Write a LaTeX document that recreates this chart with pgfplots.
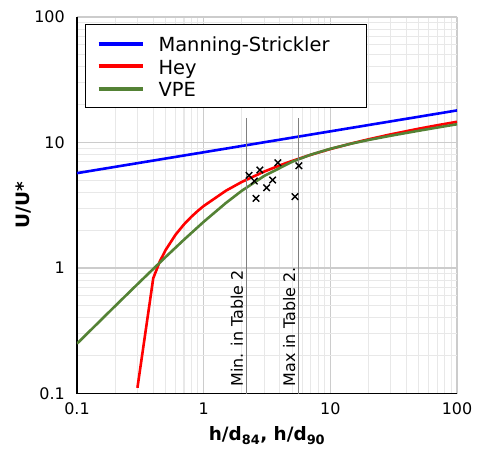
\documentclass[border=0pt]{standalone}
\usepackage{fontspec}
\setmainfont{DejaVu Sans}
\usepackage{pgfplots}
\pgfplotsset{compat=1.18}
\definecolor{msblue}{RGB}{0,0,255}
\definecolor{heyred}{RGB}{255,0,0}
\definecolor{vpegreen}{RGB}{84,130,53}
\begin{document}
\begin{tikzpicture}
\begin{axis}[
 scale only axis, width=380bp, height=376.5bp,
 xmode=log, ymode=log, xmin=0.1, xmax=100, ymin=0.1, ymax=100,
 axis x line*=bottom, axis y line*=left,
 axis line style={black, line width=1.3bp},
 xtick={0.1,1,10,100}, xticklabels={0.1,1,10,100},
 ytick={0.1,1,10,100}, yticklabels={0.1,1,10,100},
 minor xtick={0.2,0.3,0.4,0.5,0.6,0.7,0.8,0.9,2,3,4,5,6,7,8,9,20,30,40,50,60,70,80,90},
 minor ytick={0.2,0.3,0.4,0.5,0.6,0.7,0.8,0.9,2,3,4,5,6,7,8,9,20,30,40,50,60,70,80,90},
 major tick length=0pt, minor tick length=0pt,
 grid=both,
 major grid style={color=black!20, line width=1.3bp},
 minor grid style={color=black!9, line width=1.1bp},
 /pgf/number format/assume math mode=true,
 ticklabel style={font=\fontsize{16}{19}\selectfont},
 xticklabel style={yshift=-6bp},
 yticklabel style={xshift=-8.7bp},
 xlabel={\textbf{h/d\textsubscript{84}, h/d\textsubscript{90}}},
 ylabel={\textbf{U/U*}},
 label style={font=\fontsize{18.5}{22}\selectfont},
 xlabel style={at={(axis description cs:0.5,-0.078)}, anchor=north},
 ylabel style={at={(axis description cs:-0.14,0.5)}, anchor=center},
 legend style={at={(0.021,0.981)}, anchor=north west, draw=black, line width=1.2bp,
   font=\fontsize{19.5}{23}\selectfont, inner xsep=11bp, inner ysep=7.5bp, row sep=0bp,
   cells={anchor=west}},
 legend image code/.code={\draw[#1,line width=4bp] (0bp,0bp) -- (44bp,0bp);},
]
\coordinate (bl) at (axis description cs:0,0);
\coordinate (tr) at (axis description cs:1,1);
\addplot[msblue, line width=2.6bp] coordinates {(0.1,5.70) (1,8.36) (10,12.27) (100,18.01)};
\addlegendentry{\makebox[207bp][l]{\hspace*{12bp}\rule[-6.5bp]{0pt}{23.7bp}Manning-Strickler}}
\addplot[heyred, line width=2.6bp] coordinates {
(0.3,0.111) (0.4,0.830) (0.45,1.124) (0.5,1.387) (0.6,1.843) (0.7,2.228) (0.8,2.561) (0.9,2.855)
(1,3.118) (1.5,4.131) (2,4.849) (3,5.862) (4,6.580) (5,7.137) (7,7.978) (10,8.868)
(15,9.881) (20,10.599) (30,11.612) (50,12.887) (70,13.728) (100,14.618)};
\addlegendentry{\makebox[207bp][l]{\hspace*{12bp}\rule[-6.5bp]{0pt}{23.7bp}Hey}}
\addplot[vpegreen, line width=2.6bp] coordinates {
(0.1,0.2496) (0.2,0.4975) (0.3,0.7427) (0.5,1.2219) (0.7,1.6827) (1,2.3334) (1.5,3.3007)
(2,4.1244) (3,5.4083) (5,7.0288) (7,7.9965) (10,8.9136) (15,9.8497) (20,10.472)
(30,11.326) (50,12.414) (70,13.156) (100,13.982)};
\addlegendentry{\makebox[207bp][l]{\hspace*{12bp}\rule[-6.5bp]{0pt}{23.7bp}VPE}}
\addplot[forget plot, color=black!50, line width=1.2bp] coordinates {(2.18,0.1) (2.18,15.8)};
\addplot[forget plot, color=black!50, line width=1.2bp] coordinates {(5.63,0.1) (5.63,15.8)};
\addplot[forget plot, only marks, mark=x, mark size=4.6bp, mark options={line width=1.4bp, black}] coordinates {
(2.28,5.48) (2.78,6.04) (3.86,6.90) (5.65,6.53) (2.51,4.93) (3.50,5.02) (3.14,4.36) (2.59,3.59) (5.26,3.70)};
\node[rotate=90, anchor=base west, inner sep=0pt, font=\fontsize{16}{19}\selectfont] at (axis cs:2.04,0.1133) {Min. in Table 2};
\node[rotate=90, anchor=base west, inner sep=0pt, font=\fontsize{16}{19}\selectfont] at (axis cs:5.27,0.1133) {Max in Table 2.};
\end{axis}
\pgfresetboundingbox
\path ([shift={(-77bp,-56.5bp)}]bl) rectangle ([shift={(21bp,17bp)}]tr);
\end{tikzpicture}
\end{document}
